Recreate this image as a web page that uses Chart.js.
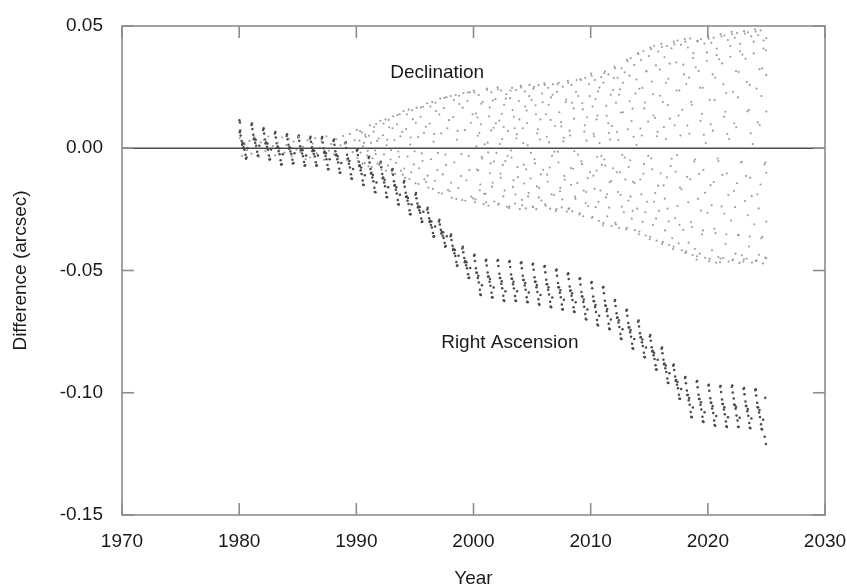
<!DOCTYPE html>
<html>
<head>
<meta charset="utf-8">
<script src="https://cdn.jsdelivr.net/npm/chart.js@4.4.1/dist/chart.umd.min.js"></script>
<style>
  html, body { margin: 0; padding: 0; background: #fff; }
  canvas { display: block; }
</style>
</head>
<body>
<canvas id="chart" width="847" height="588"></canvas>
<script>
// tick labels
const xTicks = [1970, 1980, 1990, 2000, 2010, 2020, 2030];
const yTicks = [-0.15, -0.10, -0.05, 0.00, 0.05];

// Right Ascension difference (arcsec), [year, value]
const raPoints = [
  [1980.02,0.0115],[1980.07,0.0105],
  [1980.05,0.0065],[1980.13,0.0052],[1980.21,0.0030],[1980.29,0.0021],[1980.37,0.0004],[1980.45,-0.0006],[1980.54,-0.0027],[1980.63,-0.0038],
  [1981.05,0.0095],[1981.13,0.0079],[1981.21,0.0055],[1981.29,0.0041],[1981.37,0.0023],[1981.45,0.0010],[1981.54,-0.0014],[1981.63,-0.0030],
  [1982.05,0.0075],[1982.13,0.0060],[1982.21,0.0036],[1982.29,0.0024],[1982.37,0.0006],[1982.45,-0.0006],[1982.54,-0.0030],[1982.63,-0.0045],
  [1983.05,0.0060],[1983.13,0.0044],[1983.21,0.0020],[1983.29,0.0007],[1983.37,-0.0012],[1983.45,-0.0025],[1983.54,-0.0049],[1983.63,-0.0065],
  [1984.05,0.0050],[1984.13,0.0037],[1984.21,0.0014],[1984.29,0.0004],[1984.37,-0.0013],[1984.45,-0.0024],[1984.54,-0.0047],[1984.63,-0.0060],
  [1985.05,0.0045],[1985.13,0.0031],[1985.21,0.0008],[1985.29,-0.0004],[1985.37,-0.0021],[1985.45,-0.0033],[1985.54,-0.0056],[1985.63,-0.0070],
  [1986.05,0.0040],[1986.13,0.0027],[1986.21,0.0004],[1986.29,-0.0007],[1986.37,-0.0024],[1986.45,-0.0034],[1986.54,-0.0057],[1986.63,-0.0070],
  [1987.05,0.0040],[1987.13,0.0024],[1987.21,0.0000],[1987.29,-0.0013],[1987.37,-0.0032],[1987.45,-0.0045],[1987.54,-0.0069],[1987.63,-0.0085],
  [1988.05,0.0030],[1988.13,0.0014],[1988.21,-0.0012],[1988.29,-0.0026],[1988.37,-0.0045],[1988.45,-0.0058],[1988.54,-0.0084],[1988.63,-0.0100],
  [1989.05,0.0020],[1989.13,0.0001],[1989.21,-0.0027],[1989.29,-0.0042],[1989.37,-0.0063],[1989.45,-0.0079],[1989.54,-0.0106],[1989.63,-0.0125],
  [1990.05,-0.0010],[1990.13,-0.0028],[1990.21,-0.0055],[1990.29,-0.0070],[1990.37,-0.0090],[1990.45,-0.0105],[1990.54,-0.0132],[1990.63,-0.0150],
  [1991.05,-0.0040],[1991.13,-0.0058],[1991.21,-0.0085],[1991.29,-0.0100],[1991.37,-0.0120],[1991.45,-0.0135],[1991.54,-0.0162],[1991.63,-0.0180],
  [1992.05,-0.0060],[1992.13,-0.0078],[1992.21,-0.0105],[1992.29,-0.0120],[1992.37,-0.0140],[1992.45,-0.0155],[1992.54,-0.0182],[1992.63,-0.0200],
  [1993.05,-0.0090],[1993.13,-0.0108],[1993.21,-0.0135],[1993.29,-0.0150],[1993.37,-0.0170],[1993.45,-0.0185],[1993.54,-0.0212],[1993.63,-0.0230],
  [1994.05,-0.0140],[1994.13,-0.0157],[1994.21,-0.0182],[1994.29,-0.0196],[1994.37,-0.0215],[1994.45,-0.0228],[1994.54,-0.0254],[1994.63,-0.0270],
  [1995.05,-0.0190],[1995.13,-0.0204],[1995.21,-0.0226],[1995.29,-0.0237],[1995.37,-0.0254],[1995.45,-0.0264],[1995.54,-0.0287],[1995.63,-0.0300],
  [1996.05,-0.0250],[1996.13,-0.0264],[1996.21,-0.0286],[1996.29,-0.0297],[1996.37,-0.0314],[1996.45,-0.0324],[1996.54,-0.0347],[1996.63,-0.0360],
  [1997.05,-0.0300],[1997.13,-0.0312],[1997.21,-0.0333],[1997.29,-0.0342],[1997.37,-0.0358],[1997.45,-0.0367],[1997.54,-0.0388],[1997.63,-0.0400],
  [1998.05,-0.0360],[1998.13,-0.0375],[1998.21,-0.0399],[1998.29,-0.0411],[1998.37,-0.0429],[1998.45,-0.0441],[1998.54,-0.0465],[1998.63,-0.0480],
  [1999.05,-0.0410],[1999.13,-0.0425],[1999.21,-0.0449],[1999.29,-0.0461],[1999.37,-0.0479],[1999.45,-0.0491],[1999.54,-0.0515],[1999.63,-0.0530],
  [2000.05,-0.0440],[2000.13,-0.0461],[2000.21,-0.0491],[2000.29,-0.0509],[2000.37,-0.0531],[2000.45,-0.0549],[2000.54,-0.0579],[2000.63,-0.0600],
  [2001.05,-0.0460],[2001.13,-0.0480],[2001.21,-0.0508],[2001.29,-0.0525],[2001.37,-0.0546],[2001.45,-0.0562],[2001.54,-0.0591],[2001.63,-0.0610],
  [2002.05,-0.0460],[2002.13,-0.0482],[2002.21,-0.0513],[2002.29,-0.0531],[2002.37,-0.0554],[2002.45,-0.0573],[2002.54,-0.0603],[2002.63,-0.0625],
  [2003.05,-0.0465],[2003.13,-0.0486],[2003.21,-0.0516],[2003.29,-0.0534],[2003.37,-0.0556],[2003.45,-0.0574],[2003.54,-0.0604],[2003.63,-0.0625],
  [2004.05,-0.0470],[2004.13,-0.0491],[2004.21,-0.0521],[2004.29,-0.0539],[2004.37,-0.0561],[2004.45,-0.0579],[2004.54,-0.0609],[2004.63,-0.0630],
  [2005.05,-0.0475],[2005.13,-0.0497],[2005.21,-0.0528],[2005.29,-0.0546],[2005.37,-0.0569],[2005.45,-0.0588],[2005.54,-0.0618],[2005.63,-0.0640],
  [2006.05,-0.0485],[2006.13,-0.0507],[2006.21,-0.0538],[2006.29,-0.0556],[2006.37,-0.0579],[2006.45,-0.0598],[2006.54,-0.0628],[2006.63,-0.0650],
  [2007.05,-0.0500],[2007.13,-0.0521],[2007.21,-0.0551],[2007.29,-0.0569],[2007.37,-0.0591],[2007.45,-0.0609],[2007.54,-0.0639],[2007.63,-0.0660],
  [2008.05,-0.0515],[2008.13,-0.0535],[2008.21,-0.0565],[2008.29,-0.0582],[2008.37,-0.0603],[2008.45,-0.0621],[2008.54,-0.0650],[2008.63,-0.0670],
  [2009.05,-0.0535],[2009.13,-0.0557],[2009.21,-0.0588],[2009.29,-0.0606],[2009.37,-0.0629],[2009.45,-0.0648],[2009.54,-0.0678],[2009.63,-0.0700],
  [2010.05,-0.0550],[2010.13,-0.0573],[2010.21,-0.0606],[2010.29,-0.0626],[2010.37,-0.0649],[2010.45,-0.0670],[2010.54,-0.0702],[2010.63,-0.0725],
  [2011.05,-0.0570],[2011.13,-0.0593],[2011.21,-0.0624],[2011.29,-0.0644],[2011.37,-0.0667],[2011.45,-0.0686],[2011.54,-0.0718],[2011.63,-0.0740],
  [2012.05,-0.0625],[2012.13,-0.0645],[2012.21,-0.0675],[2012.29,-0.0692],[2012.37,-0.0713],[2012.45,-0.0731],[2012.54,-0.0760],[2012.63,-0.0780],
  [2013.05,-0.0665],[2013.13,-0.0685],[2013.21,-0.0715],[2013.29,-0.0732],[2013.37,-0.0753],[2013.45,-0.0771],[2013.54,-0.0800],[2013.63,-0.0820],
  [2014.05,-0.0710],[2014.13,-0.0729],[2014.21,-0.0757],[2014.29,-0.0772],[2014.37,-0.0793],[2014.45,-0.0809],[2014.54,-0.0836],[2014.63,-0.0855],
  [2015.05,-0.0770],[2015.13,-0.0787],[2015.21,-0.0814],[2015.29,-0.0828],[2015.37,-0.0847],[2015.45,-0.0862],[2015.54,-0.0888],[2015.63,-0.0905],
  [2016.05,-0.0820],[2016.13,-0.0838],[2016.21,-0.0865],[2016.29,-0.0880],[2016.37,-0.0900],[2016.45,-0.0915],[2016.54,-0.0942],[2016.63,-0.0960],
  [2017.05,-0.0890],[2017.13,-0.0907],[2017.21,-0.0934],[2017.29,-0.0948],[2017.37,-0.0967],[2017.45,-0.0982],[2017.54,-0.1008],[2017.63,-0.1025],
  [2018.05,-0.0940],[2018.13,-0.0961],[2018.21,-0.0991],[2018.29,-0.1009],[2018.37,-0.1031],[2018.45,-0.1049],[2018.54,-0.1079],[2018.63,-0.1100],
  [2019.05,-0.0955],[2019.13,-0.0977],[2019.21,-0.1008],[2019.29,-0.1026],[2019.37,-0.1049],[2019.45,-0.1068],[2019.54,-0.1098],[2019.63,-0.1120],
  [2020.05,-0.0970],[2020.13,-0.0992],[2020.21,-0.1023],[2020.29,-0.1041],[2020.37,-0.1064],[2020.45,-0.1083],[2020.54,-0.1113],[2020.63,-0.1135],
  [2021.05,-0.0975],[2021.13,-0.0997],[2021.21,-0.1028],[2021.29,-0.1046],[2021.37,-0.1069],[2021.45,-0.1088],[2021.54,-0.1118],[2021.63,-0.1140],
  [2022.05,-0.0975],[2022.13,-0.0999],[2022.21,-0.1024],[2022.29,-0.1050],[2022.37,-0.1065],[2022.45,-0.1093],[2022.54,-0.1113],[2022.63,-0.1140],
  [2023.05,-0.0985],[2023.13,-0.1006],[2023.21,-0.1036],[2023.29,-0.1054],[2023.37,-0.1076],[2023.45,-0.1094],[2023.54,-0.1124],[2023.63,-0.1145],
  [2024.05,-0.0990],[2024.13,-0.1011],[2024.21,-0.1041],[2024.29,-0.1059],[2024.37,-0.1081],[2024.45,-0.1099],[2024.54,-0.1129],[2024.63,-0.1150],
  [2024.85,-0.1180],[2024.90,-0.1020],[2024.95,-0.1210],
  // second strand of each annual cluster
  [1980.09,0.0073],[1980.25,0.0014],[1980.41,0.0018],[1980.58,-0.0043],[1980.72,0.0000],
  [1981.09,0.0101],[1981.25,0.0037],[1981.41,0.0035],[1981.58,-0.0031],[1981.72,0.0010],
  [1982.09,0.0082],[1982.25,0.0019],[1982.41,0.0019],[1982.58,-0.0046],[1982.72,-0.0005],
  [1983.09,0.0066],[1983.25,0.0002],[1983.41,0.0000],[1983.58,-0.0066],[1983.72,-0.0025],
  [1984.09,0.0057],[1984.25,-0.0002],[1984.41,0.0000],[1984.58,-0.0062],[1984.72,-0.0020],
  [1985.09,0.0052],[1985.25,-0.0009],[1985.41,-0.0008],[1985.58,-0.0072],[1985.72,-0.0030],
  [1986.09,0.0047],[1986.25,-0.0012],[1986.41,-0.0010],[1986.58,-0.0072],[1986.72,-0.0030],
  [1987.09,0.0046],[1987.25,-0.0018],[1987.41,-0.0020],[1987.58,-0.0086],[1987.72,-0.0045],
  [1988.09,0.0036],[1988.25,-0.0029],[1988.41,-0.0033],[1988.58,-0.0100],[1988.72,-0.0060],
  [1989.09,0.0025],[1989.25,-0.0044],[1989.41,-0.0052],[1989.58,-0.0124],[1989.72,-0.0085],
  [1990.09,-0.0005],[1990.25,-0.0073],[1990.41,-0.0079],[1990.58,-0.0149],[1990.72,-0.0110],
  [1991.09,-0.0035],[1991.25,-0.0103],[1991.41,-0.0109],[1991.58,-0.0179],[1991.72,-0.0140],
  [1992.09,-0.0055],[1992.25,-0.0123],[1992.41,-0.0129],[1992.58,-0.0199],[1992.72,-0.0160],
  [1993.09,-0.0085],[1993.25,-0.0153],[1993.41,-0.0159],[1993.58,-0.0229],[1993.72,-0.0190],
  [1994.09,-0.0134],[1994.25,-0.0199],[1994.41,-0.0203],[1994.58,-0.0270],[1994.72,-0.0230],
  [1995.09,-0.0183],[1995.25,-0.0242],[1995.41,-0.0240],[1995.58,-0.0302],[1995.72,-0.0260],
  [1996.09,-0.0243],[1996.25,-0.0302],[1996.41,-0.0300],[1996.58,-0.0362],[1996.72,-0.0320],
  [1997.09,-0.0292],[1997.25,-0.0349],[1997.41,-0.0344],[1997.58,-0.0403],[1997.72,-0.0360],
  [1998.09,-0.0353],[1998.25,-0.0416],[1998.41,-0.0416],[1998.58,-0.0481],[1998.72,-0.0440],
  [1999.09,-0.0403],[1999.25,-0.0466],[1999.41,-0.0466],[1999.58,-0.0531],[1999.72,-0.0490],
  [2000.09,-0.0436],[2000.25,-0.0509],[2000.41,-0.0521],[2000.58,-0.0598],[2000.72,-0.0560],
  [2001.09,-0.0456],[2001.25,-0.0526],[2001.41,-0.0535],[2001.58,-0.0609],[2001.72,-0.0570],
  [2002.09,-0.0457],[2002.25,-0.0531],[2002.41,-0.0544],[2002.58,-0.0622],[2002.72,-0.0585],
  [2003.09,-0.0461],[2003.25,-0.0534],[2003.41,-0.0546],[2003.58,-0.0623],[2003.72,-0.0585],
  [2004.09,-0.0466],[2004.25,-0.0539],[2004.41,-0.0551],[2004.58,-0.0628],[2004.72,-0.0590],
  [2005.09,-0.0472],[2005.25,-0.0546],[2005.41,-0.0559],[2005.58,-0.0637],[2005.72,-0.0600],
  [2006.09,-0.0482],[2006.25,-0.0556],[2006.41,-0.0569],[2006.58,-0.0647],[2006.72,-0.0610],
  [2007.09,-0.0496],[2007.25,-0.0569],[2007.41,-0.0581],[2007.58,-0.0658],[2007.72,-0.0620],
  [2008.09,-0.0511],[2008.25,-0.0583],[2008.41,-0.0593],[2008.58,-0.0668],[2008.72,-0.0630],
  [2009.09,-0.0532],[2009.25,-0.0606],[2009.41,-0.0619],[2009.58,-0.0697],[2009.72,-0.0660],
  [2010.09,-0.0547],[2010.25,-0.0625],[2010.41,-0.0641],[2010.58,-0.0721],[2010.72,-0.0685],
  [2011.09,-0.0567],[2011.25,-0.0643],[2011.41,-0.0657],[2011.58,-0.0737],[2011.72,-0.0700],
  [2012.09,-0.0621],[2012.25,-0.0693],[2012.41,-0.0703],[2012.58,-0.0778],[2012.72,-0.0740],
  [2013.09,-0.0661],[2013.25,-0.0733],[2013.41,-0.0743],[2013.58,-0.0818],[2013.72,-0.0780],
  [2014.09,-0.0705],[2014.25,-0.0774],[2014.41,-0.0782],[2014.58,-0.0854],[2014.72,-0.0815],
  [2015.09,-0.0764],[2015.25,-0.0831],[2015.41,-0.0836],[2015.58,-0.0905],[2015.72,-0.0865],
  [2016.09,-0.0815],[2016.25,-0.0883],[2016.41,-0.0889],[2016.58,-0.0959],[2016.72,-0.0920],
  [2017.09,-0.0884],[2017.25,-0.0951],[2017.41,-0.0956],[2017.58,-0.1025],[2017.72,-0.0985],
  [2018.09,-0.0936],[2018.25,-0.1009],[2018.41,-0.1021],[2018.58,-0.1098],[2018.72,-0.1060],
  [2019.09,-0.0952],[2019.25,-0.1026],[2019.41,-0.1039],[2019.58,-0.1117],[2019.72,-0.1080],
  [2020.09,-0.0967],[2020.25,-0.1041],[2020.41,-0.1054],[2020.58,-0.1132],[2020.72,-0.1095],
  [2021.09,-0.0972],[2021.25,-0.1046],[2021.41,-0.1059],[2021.58,-0.1137],[2021.72,-0.1100],
  [2022.09,-0.0970],[2022.25,-0.1048],[2022.41,-0.1057],[2022.58,-0.1139],[2022.72,-0.1102],
  [2023.09,-0.0981],[2023.25,-0.1054],[2023.41,-0.1066],[2023.58,-0.1143],[2023.72,-0.1105],
  [2024.09,-0.0986],[2024.25,-0.1059],[2024.41,-0.1071],[2024.58,-0.1148],[2024.72,-0.1110]
];

// Declination difference (arcsec), [year, value]
const decPoints = [
  [1980.06,0.0042],[1980.25,-0.0031],[1980.47,0.0015],[1980.66,-0.0008],[1980.88,0.0030],
  [1981.05,-0.0022],[1981.28,0.0046],[1981.44,0.0004],[1981.69,-0.0036],[1981.85,0.0024],
  [1982.09,0.0035],[1982.24,-0.0012],[1982.49,0.0048],[1982.63,-0.0040],[1982.87,0.0009],
  [1983.07,-0.0029],[1983.29,0.0022],[1983.45,-0.0002],[1983.68,0.0044],[1983.86,-0.0018],
  [1984.04,0.0013],[1984.26,0.0039],[1984.48,-0.0034],[1984.64,0.0027],[1984.89,-0.0006],
  [1985.08,0.0046],[1985.23,-0.0015],[1985.46,0.0006],[1985.67,-0.0045],[1985.84,0.0033],
  [1986.06,-0.0038],[1986.27,0.0019],[1986.49,0.0041],[1986.62,-0.0021],[1986.88,0.0002],
  [1987.03,0.0028],[1987.25,-0.0047],[1987.44,0.0049],[1987.66,-0.0010],[1987.85,0.0017],
  [1988.09,-0.0025],[1988.28,0.0037],[1988.47,-0.0042],[1988.65,0.0012],[1988.87,0.0050],
  [1989.05,0.0021],[1989.24,-0.0050],[1989.45,0.0058],[1989.69,-0.0016],[1989.86,0.0034],
  [1990.04,0.0075],[1990.15,-0.0052],[1990.27,0.0031],[1990.36,-0.0018],[1990.49,0.0064],[1990.58,0.0008],[1990.71,-0.0061],[1990.80,0.0047],[1990.93,-0.0030],
  [1991.03,-0.0074],[1991.16,0.0094],[1991.25,0.0022],[1991.38,-0.0041],[1991.47,0.0068],[1991.60,-0.0009],[1991.69,0.0099],[1991.82,-0.0063],[1991.91,0.0040],
  [1992.05,0.0112],[1992.14,-0.0088],[1992.27,0.0053],[1992.36,-0.0025],[1992.49,0.0118],[1992.58,0.0012],[1992.71,-0.0071],[1992.80,0.0086],[1992.93,-0.0046],
  [1993.04,-0.0102],[1993.15,0.0131],[1993.26,0.0034],[1993.39,-0.0059],[1993.48,0.0098],[1993.59,-0.0013],[1993.70,0.0139],[1993.81,-0.0092],[1993.92,0.0067],
  [1994.03,0.0152],[1994.16,-0.0121],[1994.25,0.0079],[1994.38,-0.0034],[1994.47,0.0158],[1994.60,0.0015],[1994.69,-0.0098],[1994.82,0.0119],[1994.91,-0.0066],
  [1995.05,-0.0143],[1995.14,0.0166],[1995.27,0.0046],[1995.36,-0.0082],[1995.49,0.0129],[1995.58,-0.0021],[1995.71,0.0170],[1995.80,-0.0127],[1995.93,0.0088],
  [1996.04,0.0184],[1996.15,-0.0161],[1996.26,0.0101],[1996.37,-0.0045],[1996.48,0.0189],[1996.59,0.0027],[1996.70,-0.0133],[1996.81,0.0152],[1996.92,-0.0089],
  [1997.03,-0.0182],[1997.16,0.0203],[1997.25,0.0061],[1997.38,-0.0107],[1997.47,0.0164],[1997.60,-0.0026],[1997.69,0.0209],[1997.82,-0.0171],[1997.91,0.0115],
  [1998.05,0.0214],[1998.14,-0.0202],[1998.27,0.0128],[1998.36,-0.0058],[1998.49,0.0218],[1998.58,0.0035],[1998.71,-0.0163],[1998.80,0.0181],[1998.93,-0.0114],
  [1999.04,-0.0212],[1999.15,0.0226],[1999.26,0.0074],[1999.39,-0.0131],[1999.48,0.0193],[1999.59,-0.0032],[1999.70,0.0229],[1999.81,-0.0198],[1999.92,0.0139],
  [2000.04,0.0236],[2000.12,-0.0221],[2000.20,0.0142],[2000.29,-0.0087],[2000.37,0.0051],[2000.45,0.0218],[2000.54,-0.0172],[2000.62,0.0098],[2000.70,-0.0035],[2000.79,0.0189],[2000.87,-0.0228],[2000.95,0.0016],
  [2001.03,-0.0186],[2001.13,0.0244],[2001.21,0.0023],[2001.28,-0.0235],[2001.38,0.0167],[2001.46,-0.0062],[2001.53,0.0229],[2001.63,-0.0141],[2001.71,0.0084],[2001.78,-0.0218],[2001.88,0.0201],[2001.96,-0.0019],
  [2002.05,0.0249],[2002.11,-0.0231],[2002.20,0.0113],[2002.30,-0.0104],[2002.36,0.0236],[2002.44,0.0038],[2002.55,-0.0197],[2002.61,0.0178],[2002.71,-0.0052],[2002.80,0.0221],[2002.86,-0.0239],[2002.94,0.0071],
  [2003.04,-0.0244],[2003.12,0.0205],[2003.21,-0.0009],[2003.29,0.0247],[2003.37,-0.0158],[2003.45,0.0129],[2003.54,-0.0226],[2003.62,0.0238],[2003.70,0.0057],[2003.79,-0.0118],[2003.87,0.0193],[2003.95,-0.0249],
  [2004.03,0.0255],[2004.13,-0.0211],[2004.20,0.0082],[2004.29,-0.0067],[2004.38,0.0232],[2004.46,-0.0246],[2004.53,0.0154],[2004.63,0.0012],[2004.71,-0.0183],[2004.78,0.0259],[2004.88,-0.0124],[2004.96,0.0197],
  [2005.05,-0.0238],[2005.11,0.0243],[2005.21,-0.0045],[2005.30,0.0176],[2005.36,-0.0249],[2005.44,0.0061],[2005.55,0.0258],[2005.61,-0.0162],[2005.70,0.0118],[2005.80,-0.0214],[2005.86,0.0224],[2005.94,-0.0088],
  [2006.04,0.0266],[2006.12,-0.0229],[2006.20,0.0139],[2006.29,-0.0108],[2006.37,0.0247],[2006.45,0.0024],[2006.54,-0.0247],[2006.62,0.0208],[2006.70,-0.0031],[2006.79,0.0262],[2006.87,-0.0191],[2006.95,0.0091],
  [2007.03,-0.0257],[2007.13,0.0231],[2007.21,-0.0014],[2007.28,0.0268],[2007.38,-0.0176],[2007.46,0.0107],[2007.53,-0.0242],[2007.63,0.0252],[2007.71,0.0043],[2007.78,-0.0129],[2007.88,0.0189],[2007.96,-0.0259],
  [2008.05,0.0276],[2008.11,-0.0248],[2008.20,0.0072],[2008.30,-0.0081],[2008.36,0.0259],[2008.44,-0.0258],[2008.55,0.0163],[2008.61,-0.0012],[2008.71,-0.0207],[2008.80,0.0279],[2008.86,-0.0142],[2008.94,0.0214],
  [2009.04,-0.0271],[2009.12,0.0283],[2009.20,-0.0053],[2009.29,0.0184],[2009.37,-0.0278],[2009.45,0.0068],[2009.54,0.0288],[2009.62,-0.0179],[2009.70,0.0127],[2009.79,-0.0236],[2009.87,0.0262],[2009.95,-0.0098],
  [2010.03,0.0306],[2010.10,-0.0284],[2010.16,0.0171],[2010.23,-0.0112],[2010.30,0.0049],[2010.36,0.0279],[2010.43,-0.0241],[2010.50,0.0118],[2010.56,-0.0035],[2010.63,0.0232],[2010.70,-0.0297],[2010.76,0.0021],[2010.83,-0.0173],[2010.90,0.0291],[2010.96,-0.0068],
  [2011.04,-0.0315],[2011.09,0.0268],[2011.17,-0.0046],[2011.22,0.0314],[2011.31,-0.0201],[2011.37,0.0133],[2011.42,-0.0278],[2011.51,0.0302],[2011.57,0.0062],[2011.62,-0.0139],[2011.71,0.0219],[2011.77,-0.0318],[2011.82,0.0091],[2011.91,-0.0082],[2011.97,0.0287],
  [2012.03,0.0334],[2012.10,-0.0305],[2012.16,0.0186],[2012.23,-0.0098],[2012.30,0.0288],[2012.36,0.0034],[2012.43,-0.0326],[2012.50,0.0241],[2012.56,-0.0191],[2012.63,0.0327],[2012.70,-0.0027],[2012.76,0.0147],[2012.83,-0.0262],[2012.90,0.0311],[2012.96,-0.0128],
  [2013.04,-0.0331],[2013.09,0.0362],[2013.17,0.0078],[2013.22,-0.0214],[2013.31,0.0297],[2013.37,-0.0049],[2013.42,0.0368],[2013.51,-0.0288],[2013.57,0.0162],[2013.62,-0.0137],[2013.71,0.0341],[2013.77,-0.0335],[2013.82,0.0224],[2013.91,0.0013],[2013.97,-0.0247],
  [2014.03,0.0389],[2014.10,-0.0352],[2014.16,0.0243],[2014.23,-0.0128],[2014.30,0.0361],[2014.36,0.0052],[2014.43,-0.0301],[2014.50,0.0398],[2014.56,-0.0064],[2014.63,0.0187],[2014.70,-0.0357],[2014.76,0.0314],[2014.83,-0.0219],[2014.90,0.0109],[2014.96,0.0377],
  [2015.04,-0.0372],[2015.09,0.0412],[2015.17,-0.0041],[2015.22,0.0273],[2015.31,-0.0314],[2015.37,0.0134],[2015.42,0.0419],[2015.51,-0.0183],[2015.57,0.0339],[2015.62,-0.0378],[2015.71,0.0067],[2015.77,0.0396],[2015.82,-0.0256],[2015.91,0.0215],[2015.97,-0.0102],
  [2016.03,0.0427],[2016.10,-0.0391],[2016.16,0.0189],[2016.23,-0.0152],[2016.30,0.0372],[2016.36,-0.0336],[2016.43,0.0038],[2016.50,0.0418],[2016.56,-0.0247],[2016.63,0.0284],[2016.70,-0.0396],[2016.76,0.0121],[2016.83,-0.0073],[2016.90,0.0409],[2016.96,-0.0368],
  [2017.04,-0.0412],[2017.09,0.0436],[2017.17,0.0094],[2017.22,-0.0285],[2017.31,0.0351],[2017.37,-0.0028],[2017.42,0.0441],[2017.51,-0.0389],[2017.57,0.0236],[2017.62,-0.0161],[2017.71,0.0423],[2017.77,-0.0417],[2017.82,0.0157],[2017.91,-0.0334],[2017.97,0.0302],
  [2018.03,0.0447],[2018.10,-0.0428],[2018.16,0.0263],[2018.23,-0.0117],[2018.30,0.0412],[2018.36,-0.0386],[2018.43,0.0059],[2018.50,0.0449],[2018.56,-0.0302],[2018.63,0.0178],[2018.70,-0.0437],[2018.76,0.0389],[2018.83,-0.0054],[2018.90,-0.0412],[2018.96,0.0331],
  [2019.04,-0.0455],[2019.09,0.0439],[2019.17,-0.0207],[2019.22,0.0316],[2019.31,-0.0431],[2019.37,0.0112],[2019.42,0.0446],[2019.51,-0.0352],[2019.57,0.0247],[2019.62,-0.0089],[2019.71,0.0428],[2019.77,-0.0448],[2019.82,0.0021],[2019.91,0.0392],[2019.97,-0.0264],
  [2020.03,0.0457],[2020.10,-0.0462],[2020.16,0.0198],[2020.23,-0.0151],[2020.30,0.0431],[2020.36,-0.0417],[2020.43,0.0072],[2020.50,0.0452],[2020.56,-0.0329],[2020.63,0.0289],[2020.70,-0.0468],[2020.76,0.0408],[2020.83,-0.0042],[2020.90,-0.0445],[2020.96,0.0364],
  [2021.04,-0.0466],[2021.09,0.0467],[2021.17,-0.0238],[2021.22,0.0347],[2021.31,-0.0449],[2021.37,0.0129],[2021.42,0.0461],[2021.51,-0.0391],[2021.57,0.0226],[2021.62,-0.0103],[2021.71,0.0443],[2021.77,-0.0463],[2021.82,0.0038],[2021.91,0.0418],[2021.97,-0.0296],
  [2022.03,0.0476],[2022.10,-0.0458],[2022.16,0.0231],[2022.23,-0.0175],[2022.30,0.0452],[2022.36,-0.0431],[2022.43,0.0086],[2022.50,0.0471],[2022.56,-0.0354],[2022.63,0.0312],[2022.70,-0.0469],[2022.76,0.0427],[2022.83,-0.0058],[2022.90,-0.0438],[2022.96,0.0383],
  [2023.04,-0.0463],[2023.09,0.0479],[2023.17,-0.0216],[2023.22,0.0366],[2023.31,-0.0452],[2023.37,0.0151],[2023.42,0.0474],[2023.51,-0.0402],[2023.57,0.0259],[2023.62,-0.0121],[2023.71,0.0458],[2023.77,-0.0467],[2023.82,0.0017],[2023.91,0.0436],[2023.97,-0.0311],
  [2024.03,0.0487],[2024.10,-0.0461],[2024.16,0.0244],[2024.23,-0.0188],[2024.30,0.0463],[2024.36,-0.0436],[2024.43,0.0095],[2024.50,0.0482],[2024.56,-0.0368],[2024.63,0.0327],[2024.70,-0.0471],[2024.76,0.0441],[2024.83,-0.0066],[2024.90,-0.0447],[2024.96,0.0401],
  [2024.99,0.0450],[2024.99,0.0300],[2024.99,0.0150],[2024.99,-0.0100],[2024.99,-0.0300],[2024.99,-0.0450],
  // more samples across the spread
  [1990.09,-0.0040],[1990.32,0.0070],[1990.53,-0.0063],[1990.64,0.0022],[1990.76,0.0055],[1990.97,-0.0011],
  [1991.08,0.0051],[1991.31,-0.0077],[1991.52,0.0087],[1991.65,-0.0024],[1991.77,0.0030],[1991.96,-0.0069],
  [1992.09,-0.0062],[1992.32,0.0101],[1992.53,-0.0092],[1992.64,0.0035],[1992.76,0.0116],[1992.97,-0.0008],
  [1993.08,0.0082],[1993.31,-0.0105],[1993.52,0.0136],[1993.65,-0.0035],[1993.77,0.0049],[1993.96,-0.0108],
  [1994.09,-0.0083],[1994.32,0.0139],[1994.53,-0.0126],[1994.64,0.0044],[1994.76,0.0155],[1994.97,-0.0012],
  [1995.08,0.0104],[1995.31,-0.0146],[1995.52,0.0167],[1995.65,-0.0052],[1995.77,0.0063],[1995.96,-0.0138],
  [1996.09,-0.0112],[1996.32,0.0171],[1996.53,-0.0166],[1996.64,0.0058],[1996.76,0.0186],[1996.97,-0.0019],
  [1997.08,0.0138],[1997.31,-0.0185],[1997.52,0.0206],[1997.65,-0.0068],[1997.77,0.0082],[1997.96,-0.0176],
  [1998.09,-0.0141],[1998.32,0.0197],[1998.53,-0.0207],[1998.64,0.0071],[1998.76,0.0215],[1998.97,-0.0024],
  [1999.08,0.0166],[1999.31,-0.0215],[1999.52,0.0228],[1999.65,-0.0089],[1999.77,0.0104],[1999.96,-0.0205],
  [2000.08,0.0228],[2000.16,-0.0209],[2000.25,0.0008],[2000.33,0.0126],[2000.41,-0.0091],[2000.50,0.0062],[2000.58,-0.0148],[2000.66,0.0182],[2000.75,-0.0042],[2000.91,-0.0186],
  [2001.08,-0.0221],[2001.16,0.0239],[2001.25,-0.0017],[2001.33,0.0131],[2001.41,-0.0102],[2001.50,0.0073],[2001.58,-0.0157],[2001.66,0.0196],[2001.75,-0.0054],[2001.91,0.0102],
  [2002.08,0.0241],[2002.16,-0.0226],[2002.25,0.0017],[2002.33,-0.0121],[2002.41,0.0141],[2002.50,-0.0068],[2002.58,0.0087],[2002.66,-0.0173],[2002.75,0.0203],[2002.91,-0.0031],
  [2003.08,-0.0238],[2003.16,0.0236],[2003.25,-0.0038],[2003.33,0.0156],[2003.41,-0.0131],[2003.50,0.0082],[2003.58,-0.0189],[2003.66,0.0041],[2003.75,-0.0077],[2003.91,0.0118],
  [2004.08,0.0248],[2004.16,-0.0233],[2004.25,0.0021],[2004.33,-0.0144],[2004.41,0.0171],[2004.50,-0.0086],[2004.58,0.0103],[2004.66,-0.0197],[2004.75,0.0213],[2004.91,-0.0019],
  [2005.08,-0.0241],[2005.16,0.0251],[2005.25,-0.0062],[2005.33,0.0139],[2005.41,-0.0156],[2005.50,0.0078],[2005.58,-0.0201],[2005.66,0.0036],[2005.75,-0.0107],[2005.91,0.0188],
  [2006.08,0.0259],[2006.16,-0.0236],[2006.25,0.0047],[2006.33,-0.0137],[2006.41,0.0178],[2006.50,-0.0079],[2006.58,0.0116],[2006.66,-0.0188],[2006.75,0.0219],[2006.91,-0.0014],
  [2007.08,-0.0249],[2007.16,0.0262],[2007.25,-0.0058],[2007.33,0.0147],[2007.41,-0.0162],[2007.50,0.0089],[2007.58,-0.0209],[2007.66,0.0028],[2007.75,-0.0113],[2007.91,0.0199],
  [2008.08,0.0268],[2008.16,-0.0246],[2008.25,0.0052],[2008.33,-0.0149],[2008.41,0.0186],[2008.50,-0.0084],[2008.58,0.0121],[2008.66,-0.0198],[2008.75,0.0231],[2008.91,-0.0026],
  [2009.08,-0.0266],[2009.16,0.0279],[2009.25,-0.0065],[2009.33,0.0159],[2009.41,-0.0173],[2009.50,0.0094],[2009.58,-0.0224],[2009.66,0.0031],[2009.75,-0.0122],[2009.91,0.0213],
  [2010.08,0.0297],[2010.16,-0.0281],[2010.25,0.0059],[2010.33,-0.0166],[2010.41,0.0201],[2010.50,-0.0091],[2010.58,0.0134],[2010.66,-0.0219],[2010.75,0.0248],[2010.91,-0.0032],
  [2011.08,-0.0306],[2011.16,0.0308],[2011.25,-0.0071],[2011.33,0.0174],[2011.41,-0.0188],[2011.50,0.0102],[2011.58,-0.0243],[2011.66,0.0036],[2011.75,-0.0134],[2011.91,0.0238],
  [2012.08,0.0327],[2012.16,-0.0312],[2012.25,0.0066],[2012.33,-0.0179],[2012.41,0.0219],[2012.50,-0.0098],[2012.58,0.0146],[2012.66,-0.0239],[2012.75,0.0268],[2012.91,-0.0038],
  [2013.08,-0.0325],[2013.16,0.0356],[2013.25,-0.0076],[2013.33,0.0192],[2013.41,-0.0198],[2013.50,0.0111],[2013.58,-0.0256],[2013.66,0.0047],[2013.75,-0.0142],[2013.91,0.0281],
  [2014.08,0.0385],[2014.16,-0.0341],[2014.25,0.0081],[2014.33,-0.0188],[2014.41,0.0247],[2014.50,-0.0104],[2014.58,0.0163],[2014.66,-0.0262],[2014.75,0.0316],[2014.91,-0.0031],
  [2015.08,-0.0362],[2015.16,0.0406],[2015.25,-0.0086],[2015.33,0.0221],[2015.41,-0.0219],[2015.50,0.0124],[2015.58,-0.0288],[2015.66,0.0049],[2015.75,-0.0153],[2015.91,0.0322],
  [2016.08,0.0414],[2016.16,-0.0383],[2016.25,0.0087],[2016.33,-0.0206],[2016.41,0.0268],[2016.50,-0.0119],[2016.58,0.0177],[2016.66,-0.0299],[2016.75,0.0346],[2016.91,-0.0043],
  [2017.08,-0.0403],[2017.16,0.0425],[2017.25,-0.0096],[2017.33,0.0236],[2017.41,-0.0236],[2017.50,0.0134],[2017.58,-0.0313],[2017.66,0.0052],[2017.75,-0.0168],[2017.91,0.0342],
  [2018.08,0.0436],[2018.16,-0.0421],[2018.25,0.0093],[2018.33,-0.0221],[2018.41,0.0289],[2018.50,-0.0127],[2018.58,0.0189],[2018.66,-0.0322],[2018.75,0.0369],[2018.91,-0.0046],
  [2019.08,-0.0442],[2019.16,0.0437],[2019.25,-0.0104],[2019.33,0.0247],[2019.41,-0.0255],[2019.50,0.0141],[2019.58,-0.0336],[2019.66,0.0055],[2019.75,-0.0182],[2019.91,0.0358],
  [2020.08,0.0448],[2020.16,-0.0452],[2020.25,0.0098],[2020.33,-0.0233],[2020.41,0.0302],[2020.50,-0.0138],[2020.58,0.0197],[2020.66,-0.0347],[2020.75,0.0381],[2020.91,-0.0052],
  [2021.08,-0.0451],[2021.16,0.0458],[2021.25,-0.0109],[2021.33,0.0262],[2021.41,-0.0268],[2021.50,0.0149],[2021.58,-0.0352],[2021.66,0.0058],[2021.75,-0.0191],[2021.91,0.0374],
  [2022.08,0.0466],[2022.16,-0.0455],[2022.25,0.0102],[2022.33,-0.0241],[2022.41,0.0316],[2022.50,-0.0143],[2022.58,0.0208],[2022.66,-0.0356],[2022.75,0.0397],[2022.91,-0.0055],
  [2023.08,-0.0454],[2023.16,0.0469],[2023.25,-0.0113],[2023.33,0.0271],[2023.41,-0.0274],[2023.50,0.0156],[2023.58,-0.0361],[2023.66,0.0061],[2023.75,-0.0196],[2023.91,0.0388],
  [2024.08,0.0477],[2024.16,-0.0458],[2024.25,0.0106],[2024.33,-0.0246],[2024.41,0.0323],[2024.50,-0.0148],[2024.58,0.0214],[2024.66,-0.0362],[2024.75,0.0408],[2024.91,-0.0058]
];

const FONT = '"Liberation Sans", Arial, Helvetica, sans-serif';
const TEXT = '#1a1a1a';
Chart.defaults.font.family = FONT;
Chart.defaults.font.size = 19;
Chart.defaults.color = TEXT;

function line(ctx, x1, y1, x2, y2) {
  ctx.beginPath();
  ctx.moveTo(x1, y1);
  ctx.lineTo(x2, y2);
  ctx.stroke();
}

// frame with inward ticks on all four sides, zero line and the two series names
const framePlugin = {
  id: 'frame',
  afterDatasetsDraw(chart) {
    const { ctx, chartArea: a, scales: { x, y } } = chart;
    ctx.save();

    const y0 = y.getPixelForValue(0);
    ctx.strokeStyle = '#4a4a4a';
    ctx.lineWidth = 1.6;
    line(ctx, a.left, y0, a.right, y0);

    ctx.strokeStyle = '#8c8c8c';
    ctx.lineWidth = 1.6;
    ctx.strokeRect(a.left, a.top, a.right - a.left, a.bottom - a.top);

    x.ticks.forEach(t => {
      const px = x.getPixelForValue(t.value);
      line(ctx, px, a.bottom, px, a.bottom - 12);
      line(ctx, px, a.top, px, a.top + 12);
    });
    y.ticks.forEach(t => {
      const py = y.getPixelForValue(t.value);
      line(ctx, a.left, py, a.left + 12, py);
      line(ctx, a.right, py, a.right - 12, py);
    });

    ctx.font = '19px ' + FONT;
    ctx.fillStyle = TEXT;
    ctx.textAlign = 'center';
    ctx.textBaseline = 'alphabetic';
    ctx.fillText('Declination', x.getPixelForValue(1996.9), y.getPixelForValue(0.0286));
    ctx.fillText('Right Ascension', x.getPixelForValue(2003.1), y.getPixelForValue(-0.0818));
    ctx.restore();
  }
};

new Chart(document.getElementById('chart'), {
  type: 'scatter',
  data: {
    datasets: [
      {
        label: 'Declination',
        data: decPoints.map(p => ({ x: p[0], y: p[1] })),
        pointRadius: 1.05,
        pointBorderWidth: 0,
        pointBackgroundColor: '#9a9a9a'
      },
      {
        label: 'Right Ascension',
        data: raPoints.map(p => ({ x: p[0], y: p[1] })),
        pointRadius: 1.25,
        pointBorderWidth: 0,
        pointBackgroundColor: '#4a4a4a'
      }
    ]
  },
  options: {
    responsive: false,
    animation: false,
    layout: { padding: { top: 26, right: 22, left: 0, bottom: 0 } },
    plugins: {
      legend: { display: false },
      tooltip: { enabled: false }
    },
    scales: {
      x: {
        type: 'linear',
        min: 1970,
        max: 2030,
        afterBuildTicks: s => { s.ticks = xTicks.map(v => ({ value: v })); },
        afterFit: s => { s.height = 73; s.paddingLeft = 0; s.paddingRight = 0; },
        ticks: { padding: 15, maxRotation: 0, callback: v => String(v) },
        grid: { display: false, drawTicks: false },
        border: { display: false },
        title: { display: true, text: 'Year', padding: { top: 0, bottom: -2 } }
      },
      y: {
        min: -0.15,
        max: 0.05,
        afterBuildTicks: s => { s.ticks = yTicks.map(v => ({ value: v })); },
        afterFit: s => { s.width = 122; s.paddingTop = 0; s.paddingBottom = 0; },
        ticks: { padding: 19, callback: v => (Math.abs(v) < 1e-9 ? 0 : v).toFixed(2) },
        grid: { display: false, drawTicks: false },
        border: { display: false },
        title: { display: true, text: 'Difference (arcsec)', padding: { top: 9, bottom: 0 } }
      }
    }
  },
  plugins: [framePlugin]
});
</script>
</body>
</html>
